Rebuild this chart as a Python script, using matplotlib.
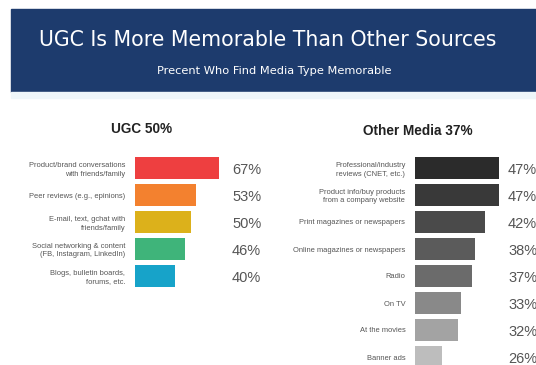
import numpy as np
import matplotlib
matplotlib.use("Agg")
import matplotlib.pyplot as plt
from matplotlib.patches import Rectangle

# data
ugc_labels = ["Product/brand conversations\nwith friends/family",
              "Peer reviews (e.g., epinions)",
              "E-mail, text, gchat with\nfriends/family",
              "Social networking & content\n(FB, Instagram, LinkedIn)",
              "Blogs, bulletin boards,\nforums, etc."]
ugc_values = [67, 53, 50, 46, 40]
ugc_colors = ["#ee3f40", "#f3812f", "#dcb11b", "#3fb47a", "#17a3c9"]

other_labels = ["Professional/industry\nreviews (CNET, etc.)",
                "Product info/buy products\nfrom a company website",
                "Print magazines or newspapers",
                "Online magazines or newspapers",
                "Radio",
                "On TV",
                "At the movies",
                "Banner ads"]
other_values = [47, 47, 42, 38, 37, 33, 32, 26]
other_colors = ["#2b2b2b", "#393939", "#4a4a4a", "#5b5b5b", "#6b6b6b",
                "#898989", "#a3a3a3", "#bdbdbd"]

W, H = 536, 365
fig = plt.figure(figsize=(W / 100, H / 100), dpi=100)
fig.patch.set_facecolor("white")

# banner
fig.patches.append(Rectangle((11 / W, 1 - 92 / H), 525 / W, 83 / H,
                             transform=fig.transFigure, color="#1d3b6d", zorder=0))
fig.patches.append(Rectangle((11 / W, 1 - 98 / H), 525 / W, 6 / H,
                             transform=fig.transFigure, color="#eef6fa", zorder=0))
fig.text(268 / W, 1 - 40 / H, "UGC Is More Memorable Than Other Sources",
         color="white", fontsize=14.8, ha="center", va="center")
fig.text(274 / W, 1 - 71 / H, "Precent Who Find Media Type Memorable",
         color="white", fontsize=8.2, ha="center", va="center")

narrow = ["Liberation Sans", "DejaVu Sans"]


def panel(rect, labels, values, colors, xmin, xmax, title, title_xy, value_x):
    ax = fig.add_axes(rect)
    y = np.arange(len(values))
    ax.barh(y, values, height=0.82, color=colors)
    ax.set_xlim(xmin, xmax)
    ax.set_ylim(len(values) - 0.5, -0.5)
    ax.set_yticks(y)
    ax.set_yticklabels(labels, fontsize=5.4, color="#555555",
                       family=narrow, ha="right", linespacing=1.3)
    ax.tick_params(axis="y", length=0, pad=7)
    ax.set_xticks([])
    for s in ax.spines.values():
        s.set_visible(False)
    for yi, v in zip(y, values):
        ax.text(value_x, yi + 0.08, f"{v}%", transform=ax.get_yaxis_transform(),
                fontsize=10.5, color="#555555", family=narrow,
                va="center", ha="left", clip_on=False)
    fig.text(title_xy[0] / W, 1 - title_xy[1] / H, title, fontsize=9.8,
             color="#222222", ha="center", va="center", family=narrow,
             fontweight="bold")
    return ax


panel([135 / W, (H - 289.5) / H, 84 / W, 135 / H], ugc_labels, ugc_values,
      ugc_colors, 15.5, 67, "UGC 50%", (142, 129), (232 - 135) / 84)
panel([415 / W, (H - 370.5) / H, 84 / W, 216 / H], other_labels, other_values,
      other_colors, 16, 47, "Other Media 37%", (418, 131), (508 - 415) / 84)

fig.savefig("out.png", dpi=100)
